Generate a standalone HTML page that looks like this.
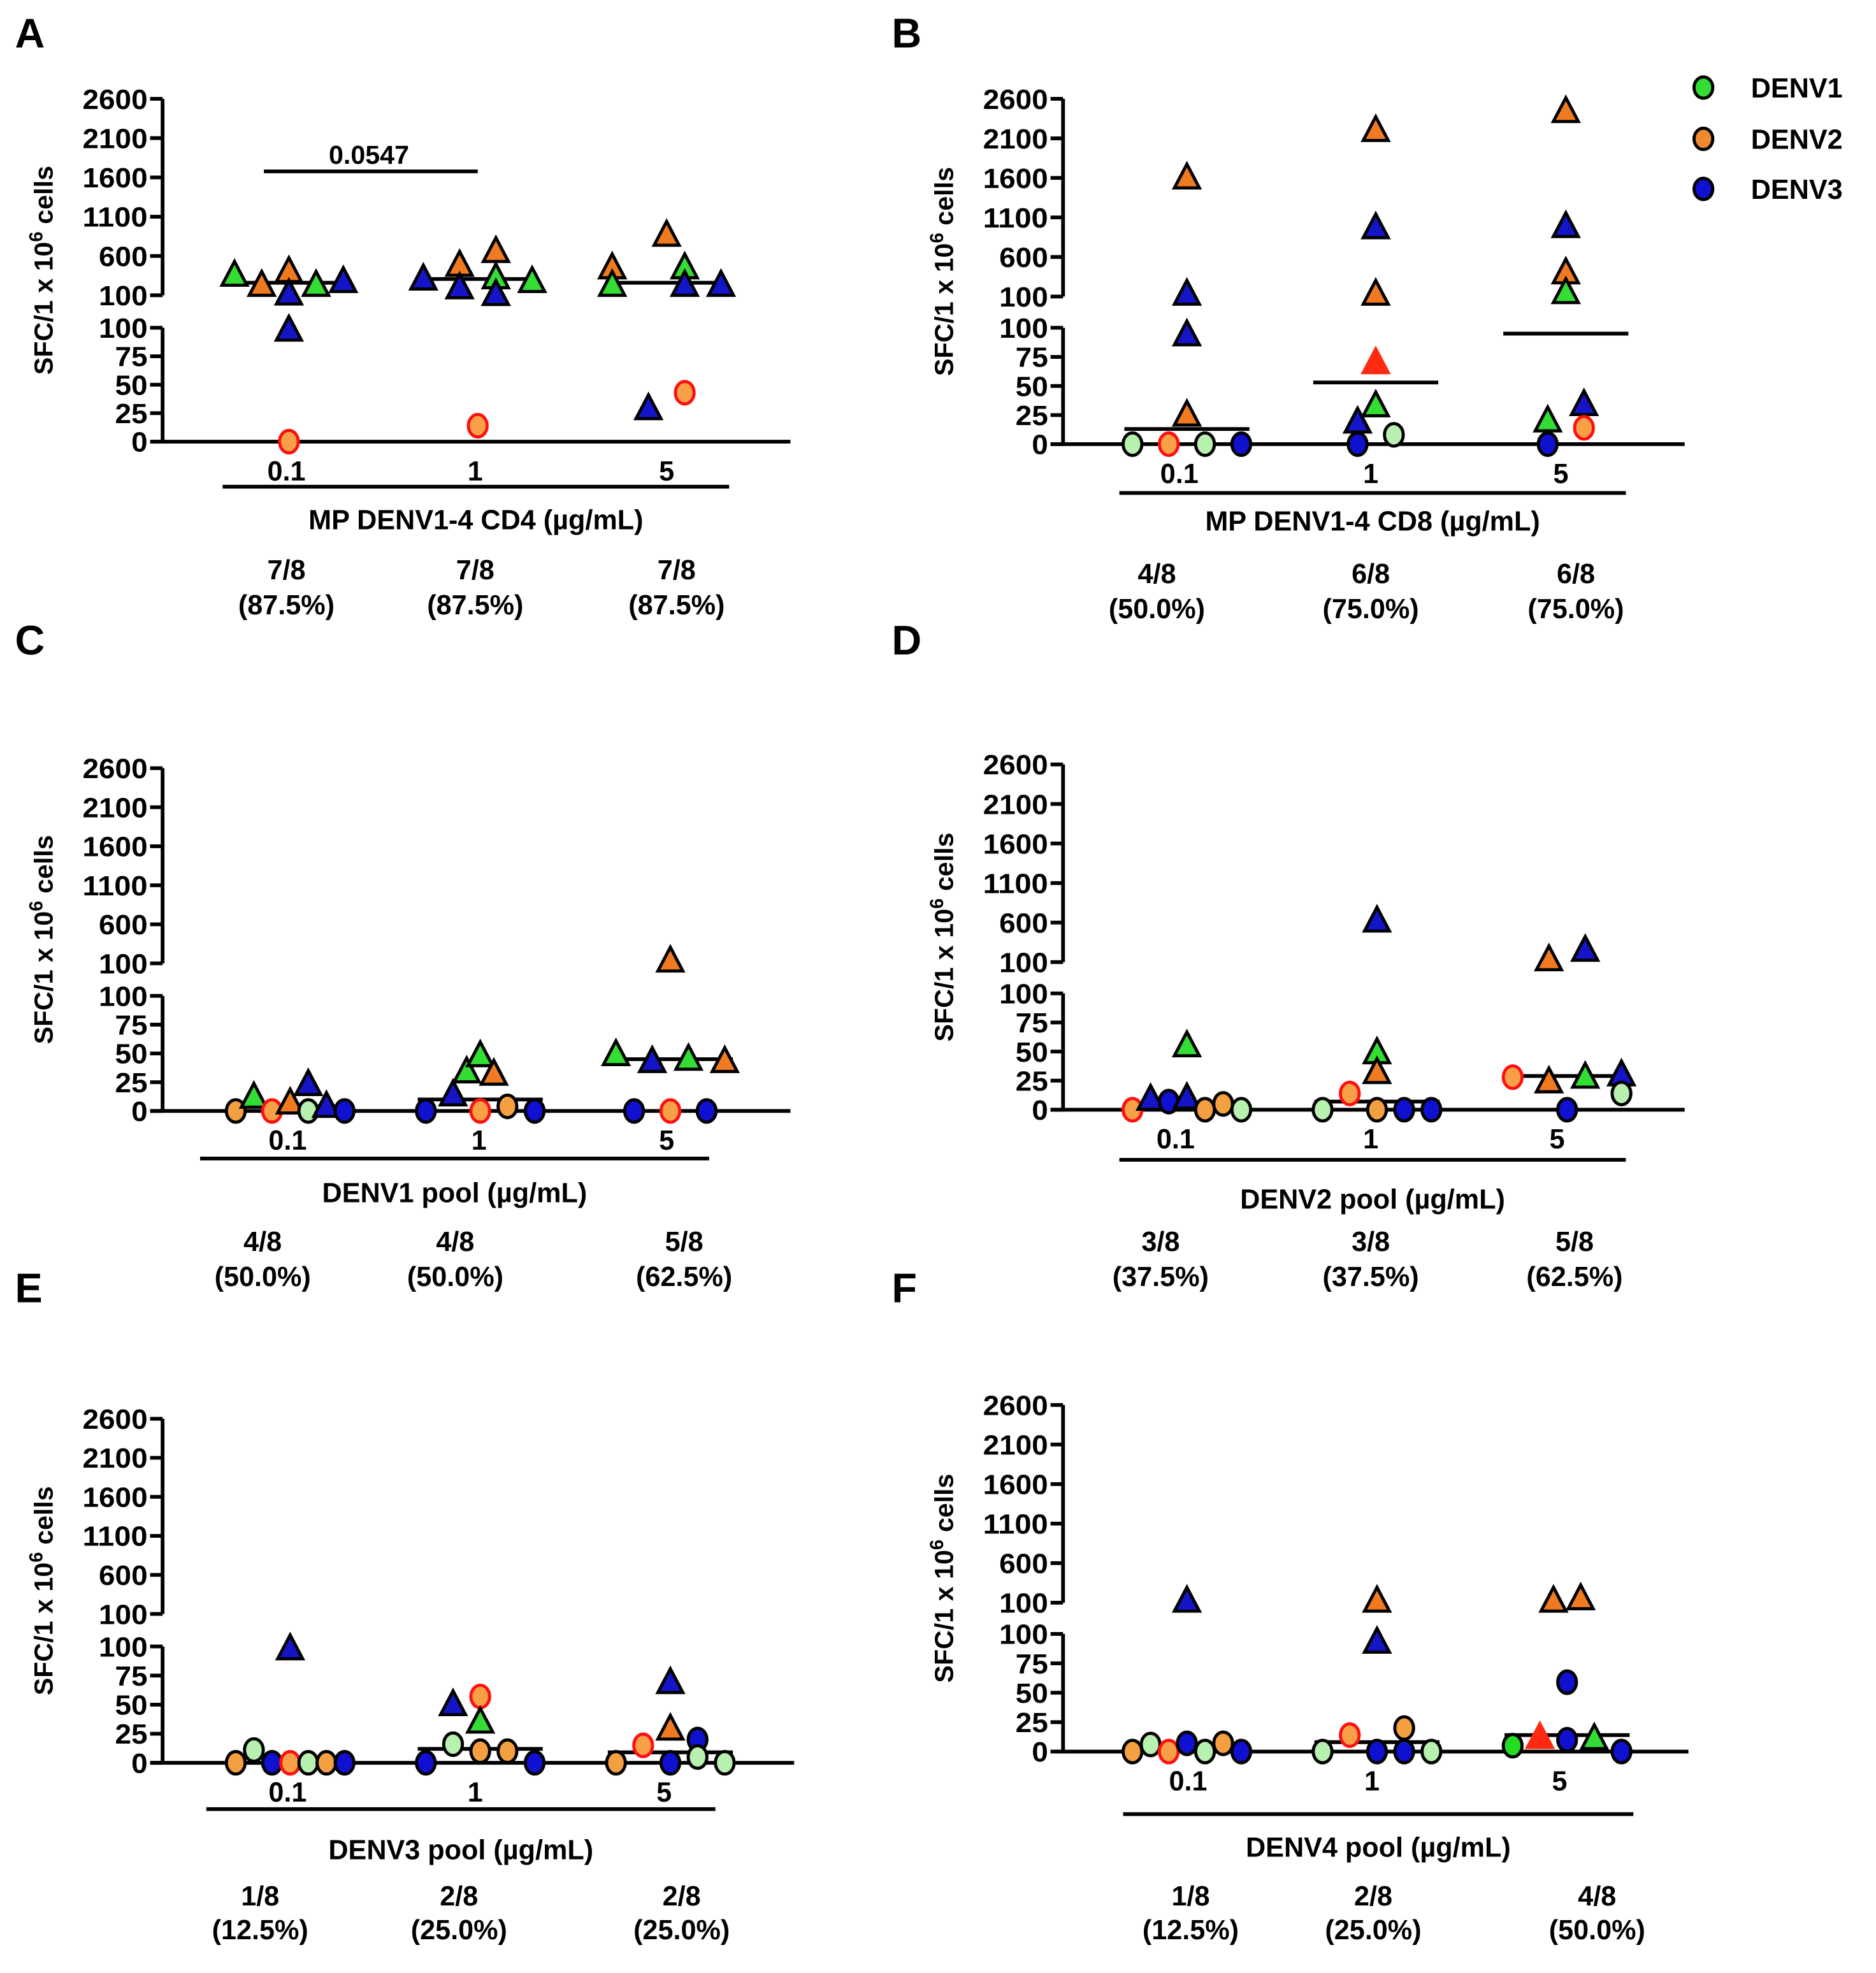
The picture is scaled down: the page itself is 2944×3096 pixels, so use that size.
<!DOCTYPE html>
<html><head><meta charset="utf-8"><style>
html,body{margin:0;padding:0;background:#fff}
svg{display:block}
text{font-family:"Liberation Sans",Arial,sans-serif;font-weight:bold;fill:#000}
</style></head><body>
<svg id="fig" width="2944" height="3096" viewBox="0 0 1500 1577" preserveAspectRatio="none" xmlns="http://www.w3.org/2000/svg">
<g id="legend">
<ellipse cx="1362" cy="70" rx="7.5" ry="8.5" fill="#33dd33" stroke="#000" stroke-width="2.5"/>
<text x="1400" y="78" font-size="22">DENV1</text>
<ellipse cx="1362" cy="111" rx="7.5" ry="8.5" fill="#f08a30" stroke="#000" stroke-width="2.5"/>
<text x="1400" y="119" font-size="22">DENV2</text>
<ellipse cx="1362" cy="151" rx="7.5" ry="8.5" fill="#1010d0" stroke="#000" stroke-width="2.5"/>
<text x="1400" y="159" font-size="22">DENV3</text>
</g>
</svg>
<script>
// ---- Data (values in SFC / 1e6 cells) ----
const yTickLower = [0, 25, 50, 75, 100];
const yTickUpper = [100, 600, 1100, 1600, 2100, 2600];
const catLabels = ["0.1", "1", "5"];

const A_cat   = [0,0,0,0,0,0,0,0, 1,1,1,1,1,1,1,1, 2,2,2,2,2,2,2,2];
const A_val   = [355,227,402,116,98,0,227,275, 307,482,195,14,323,110,657,275, 450,227,864,29,450,227,43,227];
const A_type  = ["gt","ot","ot","bt","bt","sc","gt","bt", "bt","ot","bt","sc","gt","bt","ot","gt", "ot","gt","ot","bt","gt","bt","sc","bt"];
const A_slot  = [-3,-1.5,0,0,0,0,1.5,3, -3,-1,-1,0,1,1,1,3, -3,-3,0,-1,1,1,1,3];
const A_median = [259, 307, 259];

const B_cat   = [0,0,0,0,0,0,0,0, 1,1,1,1,1,1,1,1, 2,2,2,2,2,2,2,2];
const B_val   = [0,0,0,0,1600,130,94,25, 2200,970,130,70,33,19,0,8, 2440,985,400,150,20,34,14,0];
const B_type  = ["lc","sc","lc","bc","ot","bt","bt","ot", "ot","bt","ot","rt","gt","bt","bc","lc", "ot","bt","ot","gt","gt","bt","sc","bc"];
const B_slot  = [-3,-1,1,3,0,0,0,0, 0,0,0,0,0,-1,-1,1, 0,0,0,0,-1,1,1,-1];
const B_median = [13, 53, 95];

const C_cat   = [0,0,0,0,0,0,0,0, 1,1,1,1,1,1,1,1, 2,2,2,2,2,2,2,2];
const C_val   = [0,12,0,7,0,23,4,0, 0,14,34,48,0,32,4,0, 49,0,43,0,130,45,0,43];
const C_type  = ["oc","gt","sc","ot","lc","bt","bt","bc", "bc","bt","gt","gt","sc","ot","oc","bc", "gt","bc","bt","sc","ot","gt","bc","ot"];
const C_slot  = [-3,-2,-1,0,1,1,2,3, -3,-1.5,-0.75,0,0,0.75,1.5,3, -3,-2,-1,0,0,1,2,3];
const C_median = [4, 10, 45];

const D_cat   = [0,0,0,0,0,0,0,0, 1,1,1,1,1,1,1,1, 2,2,2,2,2,2,2,2];
const D_val   = [0,9,7,10,55,0,5,0, 0,14,0,49,32,620,0,0, 28,24,130,0,250,28,30,14];
const D_type  = ["sc","bt","bc","bt","gt","oc","oc","lc", "lc","sc","oc","gt","ot","bt","bc","bc", "sc","ot","ot","bc","bt","gt","bt","lc"];
const D_slot  = [-3,-2,-1,0,0,1,2,3, -3,-1.5,0,0,0,0,1.5,3, -3,-1,-1,0,1,1,3,3];
const D_median = [3, 7, 29];

const E_cat   = [0,0,0,0,0,0,0,0, 1,1,1,1,1,1,1,1, 2,2,2,2,2,2,2,2];
const E_val   = [0,11,0,0,98,0,0,0, 0,50,16,57,35,10,10,0, 0,15,69,29,0,20,5,0];
const E_type  = ["oc","lc","bc","sc","bt","lc","oc","bc", "bc","bt","lc","sc","gt","oc","oc","bc", "oc","sc","bt","ot","bc","bc","lc","lc"];
const E_slot  = [-3,-2,-1,0,0,1,2,3, -3,-1.5,-1.5,0,0,0,1.5,3, -3,-1.5,0,0,0,1.5,1.5,3];
const E_median = [0, 12, 9];

const F_cat   = [0,0,0,0,0,0,0,0, 1,1,1,1,1,1,1,1, 2,2,2,2,2,2,2,2];
const F_val   = [0,6,0,7,120,0,7,0, 0,14,120,93,0,20,0,0, 5,120,12,10,59,150,11,0];
const F_type  = ["oc","lc","sc","bc","bt","lc","oc","bc", "lc","sc","ot","bt","bc","oc","bc","lc", "gc","ot","rt","bc","bc","ot","gt","bc"];
const F_slot  = [-3,-2,-1,0,0,1,2,3, -3,-1.5,0,0,0,1.5,1.5,3, -3,-0.75,-1.5,0,0,0.75,1.5,3];
const F_median = [0, 8, 14];

const A_frac = [["7/8","(87.5%)"],["7/8","(87.5%)"],["7/8","(87.5%)"]];
const B_frac = [["4/8","(50.0%)"],["6/8","(75.0%)"],["6/8","(75.0%)"]];
const C_frac = [["4/8","(50.0%)"],["4/8","(50.0%)"],["5/8","(62.5%)"]];
const D_frac = [["3/8","(37.5%)"],["3/8","(37.5%)"],["5/8","(62.5%)"]];
const E_frac = [["1/8","(12.5%)"],["2/8","(25.0%)"],["2/8","(25.0%)"]];
const F_frac = [["1/8","(12.5%)"],["2/8","(25.0%)"],["4/8","(50.0%)"]];

// ---- Styles & layout ----
const NS = "http://www.w3.org/2000/svg";
const svg = document.getElementById("fig");
const STY = {
  gt:{f:"#33dd33",s:"#000"}, ot:{f:"#f07a20",s:"#000"}, bt:{f:"#1515c8",s:"#000"}, rt:{f:"#ff2a10",s:"#ff2a10"},
  lc:{f:"#b8f0b0",s:"#000"}, sc:{f:"#f8a048",s:"#ff1010"}, oc:{f:"#f4a040",s:"#000"}, bc:{f:"#1010d0",s:"#000"}, gc:{f:"#22dd22",s:"#000"}
};
function mk(tag, attrs, parent){
  const e = document.createElementNS(NS, tag);
  for (const k in attrs) e.setAttribute(k, attrs[k]);
  (parent||svg).appendChild(e);
  return e;
}
const panels = [
  {id:"A", cat:A_cat, val:A_val, type:A_type, slot:A_slot, med:A_median, frac:A_frac, title:"MP DENV1-4 CD4 (\u00b5g/mL)",
   ax:130, xend:632, yTop:79, yU:236, yL:262, y0:353, cx:[231,382,533], lx:[229,380,533], br:[178,583,389], ty:423, fy:[463,491], fx:[229,380,541], medW:45, letter:[12,38]},
  {id:"B", cat:B_cat, val:B_val, type:B_type, slot:B_slot, med:B_median, frac:B_frac, title:"MP DENV1-4 CD8 (\u00b5g/mL)",
   ax:850, xend:1347, yTop:79, yU:237, yL:262, y0:355, cx:[949,1100,1252], lx:[943,1096,1248], br:[895,1300,394], ty:424, fy:[466,494], fx:[925,1096,1260], medW:50, letter:[713,38]},
  {id:"C", cat:C_cat, val:C_val, type:C_type, slot:C_slot, med:C_median, frac:C_frac, title:"DENV1 pool (\u00b5g/mL)",
   ax:130, xend:632, yTop:614, yU:770, yL:796, y0:888, cx:[232,384,536], lx:[230,383,533], br:[160,567,926], ty:961, fy:[1000,1028], fx:[210,364,547], medW:50, letter:[12,523]},
  {id:"D", cat:D_cat, val:D_val, type:D_type, slot:D_slot, med:D_median, frac:D_frac, title:"DENV2 pool (\u00b5g/mL)",
   ax:850, xend:1347, yTop:611, yU:769, yL:794, y0:887, cx:[949,1101,1253], lx:[940,1096,1245], br:[895,1300,927], ty:966, fy:[1000,1028], fx:[928,1096,1259], medW:50, letter:[713,523]},
  {id:"E", cat:E_cat, val:E_val, type:E_type, slot:E_slot, med:E_median, frac:E_frac, title:"DENV3 pool (\u00b5g/mL)",
   ax:130, xend:635, yTop:1134, yU:1290, yL:1316, y0:1409, cx:[232,384,536], lx:[230,380,531], br:[165,572,1446], ty:1486, fy:[1523,1550], fx:[208,367,545], medW:50, letter:[12,1041]},
  {id:"F", cat:F_cat, val:F_val, type:F_type, slot:F_slot, med:F_median, frac:F_frac, title:"DENV4 pool (\u00b5g/mL)",
   ax:850, xend:1350, yTop:1123, yU:1281, yL:1306, y0:1400, cx:[949,1101,1253], lx:[950,1097,1247], br:[898,1306,1450], ty:1484, fy:[1523,1550], fx:[952,1098,1277], medW:50, letter:[713,1041]}
];
const SLOT = 14.5;

panels.forEach(p=>{
  const g = mk("g",{});
  
  
  const yScale = v => v > 100
    ? p.yU - (v-100)/2500*(p.yU-p.yTop)
    : p.y0 - v/100*(p.y0-p.yL);
  const L = mk("text",{x:p.letter[0], y:p.letter[1], "font-size":33}, g);
  L.textContent = p.id;
  
  
  const ya = mk("path",{d:`M${p.ax},${p.yTop} V${p.yU} M${p.ax},${p.yL} V${p.y0}`, stroke:"#000","stroke-width":3,fill:"none"}, g);
  
  
  const xa = mk("line",{x1:p.ax-10, x2:p.xend, y1:p.y0, y2:p.y0, stroke:"#000","stroke-width":3}, g);
  
  
  yTickUpper.forEach(v=>{
    const y = yScale(v===100?100.0001:v);
    mk("line",{x1:p.ax-10,x2:p.ax,y1:y,y2:y,stroke:"#000","stroke-width":3}, g);
    const t = mk("text",{x:p.ax-12,y:y+8,"font-size":22,"text-anchor":"end",textLength:v>=1000?52:39,lengthAdjust:"spacingAndGlyphs"}, g);
    t.textContent = v;
    
    
  });
  yTickLower.forEach(v=>{
    const y = yScale(v);
    mk("line",{x1:p.ax-10,x2:p.ax,y1:y,y2:y,stroke:"#000","stroke-width":3}, g);
    const t = mk("text",{x:p.ax-12,y:y+8,"font-size":22,"text-anchor":"end",textLength:v>=100?39:(v>=10?26:13),lengthAdjust:"spacingAndGlyphs"}, g);
    t.textContent = v;
    
    
  });
  const yl = mk("text",{x:0,y:0,"font-size":21,"text-anchor":"middle",transform:`translate(${p.ax-88},${(p.yTop+p.y0)/2}) rotate(-90)`}, g);
  yl.innerHTML = 'SFC/1 x 10<tspan dy="-8" font-size="15">6</tspan><tspan dy="8"> cells</tspan>';
  
  
  catLabels.forEach((c,i)=>{
    const t = mk("text",{x:p.lx[i],y:p.y0+31,"font-size":22,"text-anchor":"middle"}, g);
    t.textContent = c;
    
    
    const f1 = mk("text",{x:p.fx[i],y:p.fy[0],"font-size":22,"text-anchor":"middle"}, g);
    f1.textContent = p.frac[i][0];
    
    
    const f2 = mk("text",{x:p.fx[i],y:p.fy[1],"font-size":22,"text-anchor":"middle"}, g);
    f2.textContent = p.frac[i][1];
    
    
  });
  const br = mk("line",{x1:p.br[0],x2:p.br[1],y1:p.br[2],y2:p.br[2],stroke:"#000","stroke-width":3}, g);
  
  
  const tt = mk("text",{x:(p.br[0]+p.br[1])/2,y:p.ty,"font-size":22,"text-anchor":"middle"}, g);
  tt.textContent = p.title;
  
  
  p.med.forEach((m,i)=>{
    const y = yScale(m);
    const ml = mk("line",{x1:p.cx[i]-p.medW,x2:p.cx[i]+p.medW,y1:y,y2:y,stroke:"#000","stroke-width":3}, g);
    
    
  });
  p.val.forEach((v,i)=>{
    const x = p.cx[p.cat[i]] + p.slot[i]*SLOT;
    const y = yScale(v);
    const s = STY[p.type[i]];
    let e;
    if (p.type[i].endsWith("t")) {
      e = mk("polygon",{points:`${x},${y-11} ${x+10},${y+8} ${x-10},${y+8}`, fill:s.f, stroke:s.s, "stroke-width":2.5, "stroke-linejoin":"miter"}, g);
    } else {
      e = mk("ellipse",{cx:x, cy:y, rx:7.5, ry:9, fill:s.f, stroke:s.s, "stroke-width":2.5}, g);
    }
    
    
  });
  if (p.id === "A") {
    const sl = mk("line",{x1:211,x2:382,y1:137,y2:137,stroke:"#000","stroke-width":3}, g);
    
    
    const st = mk("text",{x:295,y:131,"font-size":21,"text-anchor":"middle"}, g);
    st.textContent = "0.0547";
    
    
  }
});
</script>
</body></html>
